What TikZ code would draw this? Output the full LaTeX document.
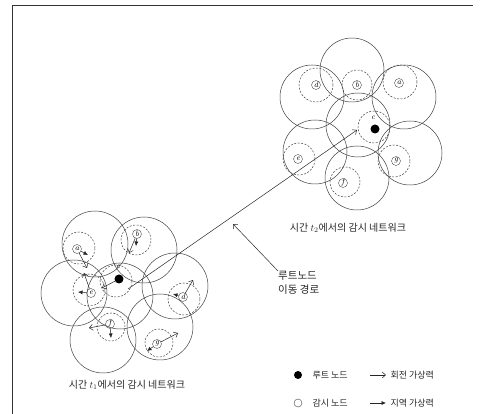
\documentclass[tikz,border=0pt]{standalone}
\usepackage{fontspec}
\newfontfamily\kr{Noto Sans CJK KR}
\usetikzlibrary{arrows.meta}

\begin{document}
\begin{tikzpicture}[x=1pt,y=-1pt,
  zone/.style={draw=black!75, line width=0.5pt},
  sense/.style={draw=black!75, line width=0.5pt, dash pattern=on 2pt off 1.5pt},
  mon/.style={circle, draw=black!70, inner sep=0pt, minimum size=9pt, font=\fontsize{8}{8}\selectfont\itshape},
  rootdot/.style={circle, fill=black, inner sep=0pt, minimum size=9pt},
  rot/.style={draw=black!85, line width=0.5pt, -{Straight Barb[length=3.5pt,width=6pt]}},
  loc/.style={draw=black!85, line width=0.5pt, -{Latex[length=4.5pt,width=4pt]}},
  caption/.style={font=\kr\fontsize{9}{11}\selectfont, text=black!85}
]

\useasboundingbox (0,0) rectangle (483,414);

% Frame
\draw[line width=0.6pt, black!80] (12,414) -- (12,5) -- (473,5);

% Sensing zones at time t1
\foreach \x/\y in {95/244, 144/250, 74/293, 120/296, 175/286, 103/340, 160/327}
  \draw[zone] (\x,\y) circle (33pt);
\foreach \x/\y/\r in {79/248/16, 136/240/15, 116/281/16, 89/290/16, 184/299/16, 111/327/14, 159/343/14}
  \draw[sense] (\x,\y) circle (\r pt);

% Sensing zones at time t2
\foreach \x/\y in {312/97, 352/70, 404/97, 358/125, 315/152, 357/178, 410/153}
  \draw[zone] (\x,\y) circle (32pt);
\foreach \x/\y/\r in {316/85/17, 357/85/15, 400/82/17, 374/127/16, 299/159/16, 345/182/15, 394/161/16}
  \draw[sense] (\x,\y) circle (\r pt);

% Nodes at time t1
\node[mon] (a1) at (77,249) {a};
\node[mon] (b1) at (137,234) {b};
\node[rootdot] (c1) at (119,279) {};
\node[font=\fontsize{8}{8}\selectfont\itshape] (c1l) at (118,267) {c};
\node[mon] (e1) at (91,293) {e};
\node[mon] (d1) at (183,297) {d};
\node[mon] (f1) at (110,324) {f};
\node[mon] (g1) at (157,344) {g};

% Virtual forces at time t1
\draw[loc] (a1) -- ++(11,6);
\draw[rot] (a1) -- ++(10,19);
\draw[loc] (b1) -- ++(-1,12);
\draw[rot] (b1) -- ++(-8,19);
\draw[rot] (c1) -- ++(-17,9);
\draw[loc] (e1) -- ++(-13,-1);
\draw[rot] (e1) -- ++(-7,-20);
\draw[loc] (f1) -- ++(1,14);
\draw[rot] (f1) -- ++(-21,4);
\draw[rot] (d1) -- ++(10,-17);
\draw[loc] (d1) -- ++(-10,-3);
\draw[rot] (g1) -- ++(21,-11);
\draw[loc] (g1) -- ++(-10,7);

% Nodes at time t2
\node[mon] (d2) at (316,85) {d};
\node[mon] (b2) at (357,85) {b};
\node[mon] (a2) at (399,83) {a};
\node[rootdot] (c2) at (375,129) {};
\node[font=\fontsize{8}{8}\selectfont\itshape] (c2l) at (373,118) {c};
\node[mon] (e2) at (298,159) {e};
\node[mon] (f2) at (343,183) {f};
\node[mon] (g2) at (396,161) {g};

% Path of the root node
\coordinate (pathstart) at (128,289);
\coordinate (pathend) at (357,130);
\draw[rot] (pathstart) -- (pathend);

\node[font=\kr\fontsize{10.5}{14}\selectfont, text=black!85, align=left, anchor=north west, inner sep=0pt] (pathlbl) at (278,271) {루트노드\\이동 경로};
\coordinate (pathtip) at (233,224);
\draw[rot] (pathlbl.north west) -- (pathtip);

% Captions
\node[caption, font=\kr\fontsize{10}{12}\selectfont] (cap2) at (348,228) {시간 $t_2$에서의 감시 네트워크};
\node[caption, font=\kr\fontsize{10}{12}\selectfont] (cap1) at (127,385) {시간 $t_1$에서의 감시 네트워크};

% Legend
\node[rootdot, minimum size=8pt] (legroot) at (298,375) {};
\node[caption, anchor=west] (legrootl) at (309,375) {루트 노드};
\coordinate (legrs) at (370,375);
\coordinate (legre) at (386,375);
\draw[rot] (legrs) -- (legre);
\node[caption, anchor=west] (legrotl) at (387,375) {회전 가상력};

\node[circle, draw=black!75, minimum size=8pt, inner sep=0pt] (legmon) at (298,403) {};
\node[caption, anchor=west] (legmonl) at (309,403) {감시 노드};
\coordinate (legls) at (370,403);
\coordinate (legle) at (386,403);
\draw[loc] (legls) -- (legle);
\node[caption, anchor=west] (leglocl) at (387,403) {지역 가상력};

\end{tikzpicture}
\end{document}
